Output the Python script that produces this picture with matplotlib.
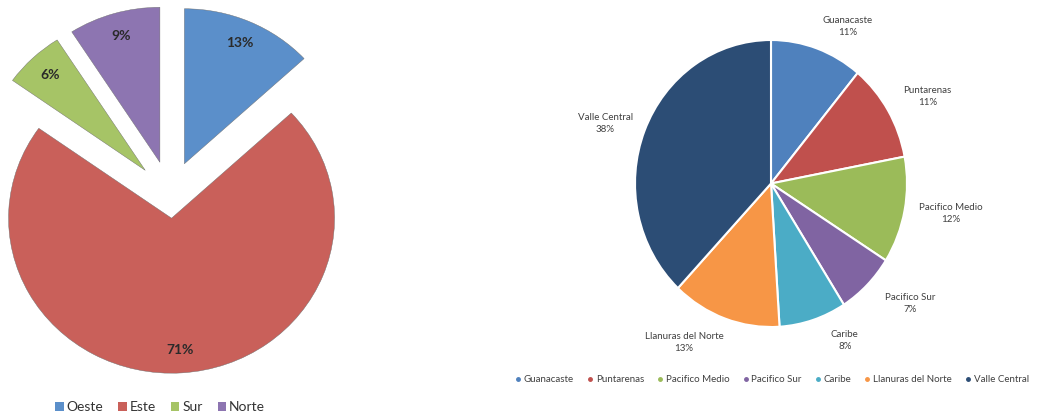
import matplotlib
matplotlib.use('Agg')
import matplotlib.pyplot as plt
import numpy as np
from matplotlib.patches import Patch
from matplotlib.lines import Line2D

plt.rcParams['font.family'] = ['Lato', 'DejaVu Sans']

W, H = 1038, 417

# left chart data
zonas = ['Oeste', 'Este', 'Sur', 'Norte']
zonas_pct = [13, 71, 6, 9]
zonas_colors = ['#5b8fca', '#c9605a', '#a6c466', '#8d75b1']
zonas_explode = [0.22, 0.15, 0.22, 0.22]

# right chart data
regiones = ['Guanacaste', 'Puntarenas', 'Pacifico Medio', 'Pacifico Sur',
            'Caribe', 'Llanuras del Norte', 'Valle Central']
regiones_pct = [11, 11, 12, 7, 8, 13, 38]
regiones_colors = ['#4f81bd', '#c0504d', '#9bbb59', '#8064a2',
                   '#4bacc6', '#f79646', '#2c4d75']
# where Excel put each outside label (angle in degrees, distance in radii)
label_ang = [62.7, 27.9, -9.1, -39.4, -63.6, -120.0, 161.0]
label_dist = [1.23, 1.30, 1.34, 1.32, 1.22, 1.28, 1.29]


def px_axes(x0, y0, x1, y1):
    # axes placed by pixel box (top-left origin)
    return fig.add_axes([x0 / W, 1 - y1 / H, (x1 - x0) / W, (y1 - y0) / H])


fig = plt.figure(figsize=(W / 100, H / 100), dpi=100)

# ---- left exploded pie ----
ax1 = px_axes(7, 40, 333, 350)
wedges, texts = ax1.pie(zonas_pct, colors=zonas_colors, explode=zonas_explode,
                        startangle=90, counterclock=False,
                        labels=[f'{v}%' for v in zonas_pct], labeldistance=0.85,
                        wedgeprops=dict(edgecolor='#6a6a6a', linewidth=0.3),
                        textprops=dict(fontsize=10, fontweight='bold', color='#2a2a2a'))
for t in texts:
    t.set_ha('center')
    t.set_va('center')
for w in wedges:
    w.set_clip_on(False)
ax1.set_xlim(-1, 1)
ax1.set_ylim(-1, 1)
ax1.set_aspect('auto')
ax1.axis('off')

handles = [Patch(facecolor=c, edgecolor='none') for c in zonas_colors]
fig.legend(handles, zonas, loc='center', bbox_to_anchor=(160 / W, 1 - 407 / H),
           ncol=4, frameon=False, fontsize=10, handlelength=0.6, handleheight=0.6,
           handletextpad=0.2, columnspacing=1.1, labelcolor='#333333')

# ---- right pie ----
ax2 = px_axes(635, 40, 907, 327)
wedges2, _ = ax2.pie(regiones_pct, colors=regiones_colors, startangle=90,
                     counterclock=False,
                     wedgeprops=dict(edgecolor='white', linewidth=1.5))
for w in wedges2:
    w.set_clip_on(False)
for name, v, a, d in zip(regiones, regiones_pct, label_ang, label_dist):
    r = np.deg2rad(a)
    ax2.text(d * np.cos(r), d * np.sin(r), f'{name}\n{v}%', ha='center', va='center',
             fontsize=7, color='#404040', linespacing=1.45, clip_on=False)
ax2.set_xlim(-1, 1)
ax2.set_ylim(-1, 1)
ax2.set_aspect('auto')
ax2.axis('off')

handles2 = [Line2D([], [], marker='o', linestyle='none', markersize=2.5,
                   markerfacecolor=c, markeredgecolor=c) for c in regiones_colors]
fig.legend(handles2, regiones, loc='center', bbox_to_anchor=(772 / W, 1 - 380 / H),
           ncol=7, frameon=False, fontsize=7, handlelength=0.6, handletextpad=0.3,
           columnspacing=1.35, labelcolor='#404040', borderpad=0.1)

fig.savefig('out.png', dpi=100)
